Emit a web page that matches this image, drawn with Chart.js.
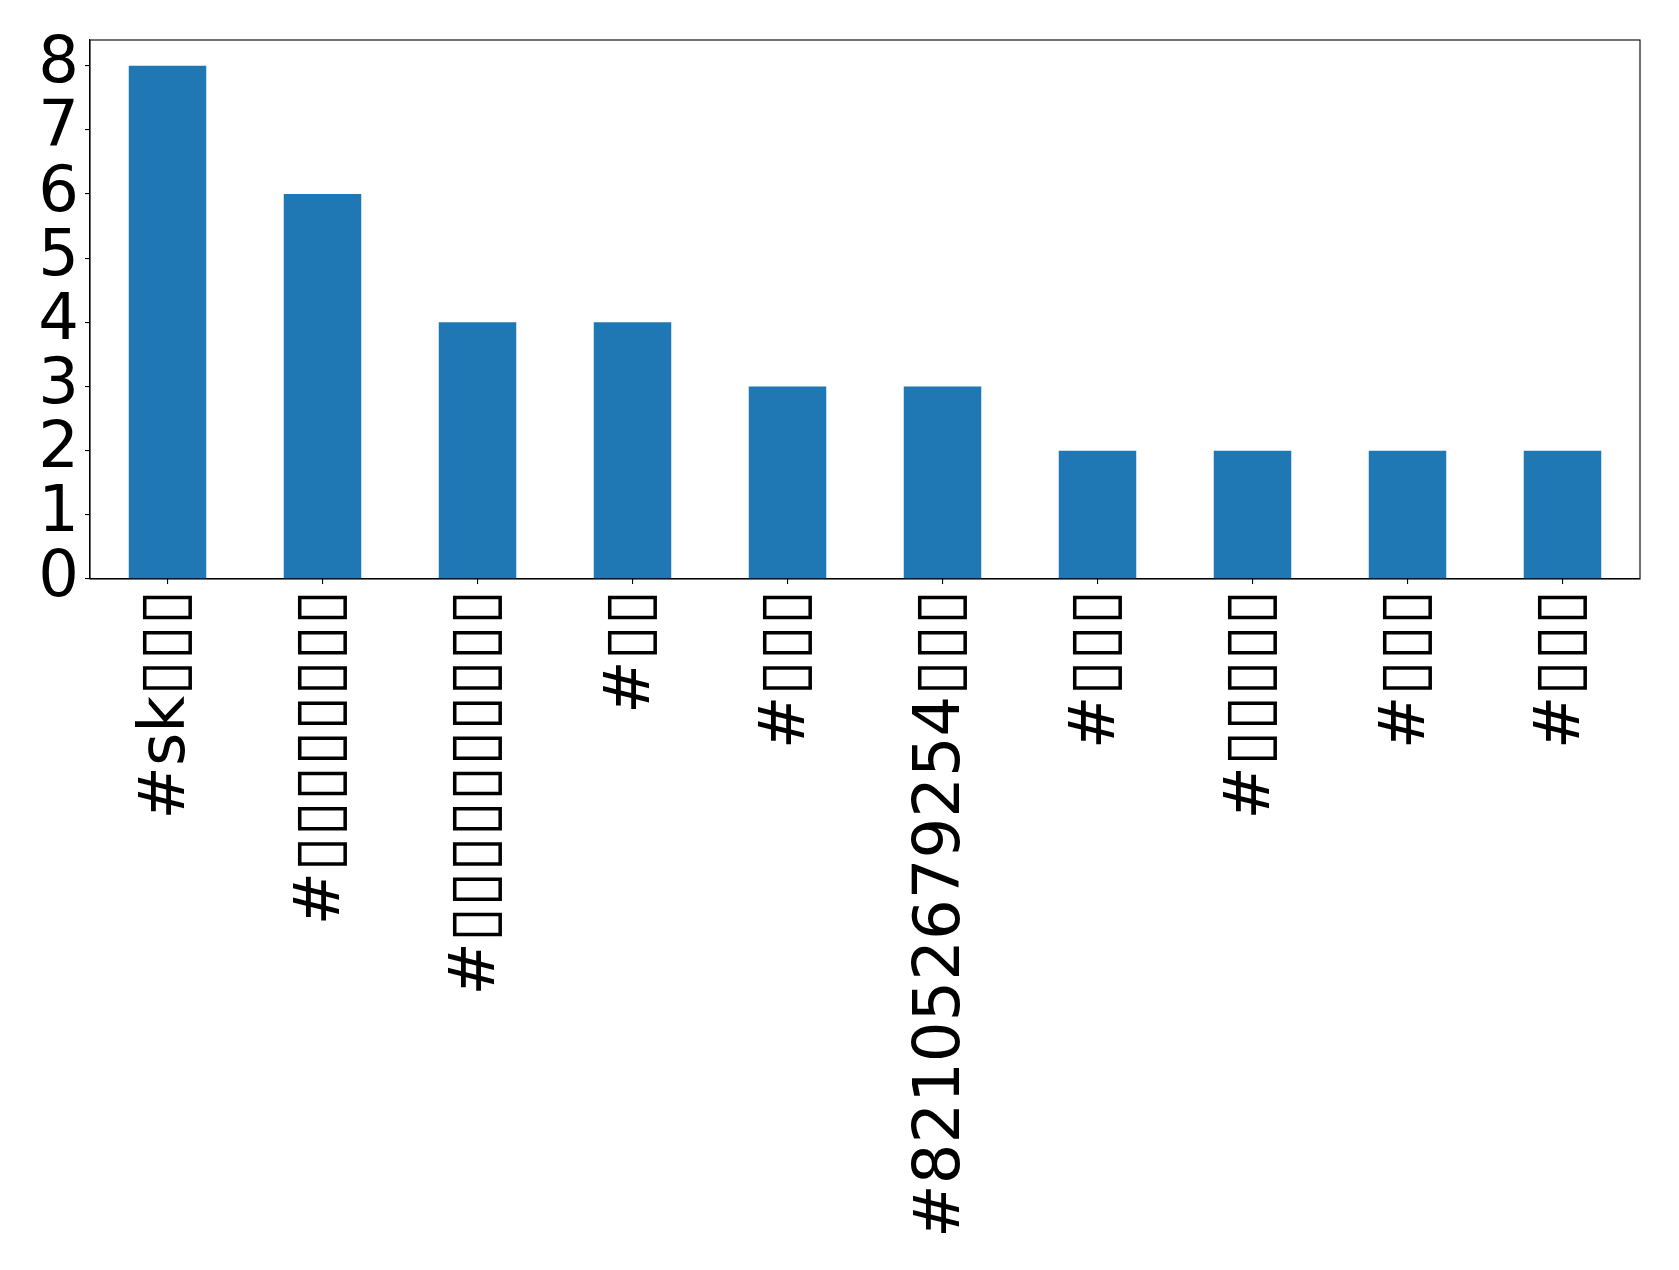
<!DOCTYPE html>
<html>
<head>
<meta charset="utf-8">
<script src="https://cdn.jsdelivr.net/npm/chart.js@4/dist/chart.umd.min.js"></script>
<style>
  html, body { margin: 0; padding: 0; background: #fff; }
  #wrap { width: 1679px; height: 1270px; }
</style>
</head>
<body>
<div id="wrap"><canvas id="chart" width="1679" height="1270"></canvas></div>
<script>
// ---------- Data ----------
// glyphs missing in the source render are kept as white rectangles
const hashtags = [
  "#sk▯▯▯",
  "#▯▯▯▯▯▯▯▯",
  "#▯▯▯▯▯▯▯▯▯▯",
  "#▯▯",
  "#▯▯▯",
  "#821052679254▯▯▯",
  "#▯▯▯",
  "#▯▯▯▯▯",
  "#▯▯▯",
  "#▯▯▯"
];
const counts = [8, 6, 4, 4, 3, 3, 2, 2, 2, 2];
const yTicks = [0, 1, 2, 3, 4, 5, 6, 7, 8];
const yMax = 8.4;

// ---------- Style ----------
const FONT = { family: "'DejaVu Sans'", size: 64 };
const BLUE = "#1f77b4";

// frame round the plot area (matplotlib spines)
const framePlugin = {
  id: "frame",
  afterDraw(c) {
    const a = c.chartArea, ctx = c.ctx;
    ctx.save();
    ctx.strokeStyle = "#000";
    ctx.lineWidth = 1.1;
    ctx.strokeRect(a.left, a.top, a.right - a.left, a.bottom - a.top);
    ctx.restore();
  }
};

Chart.defaults.font.family = FONT.family;
Chart.defaults.color = "#000";

new Chart(document.getElementById("chart"), {
  type: "bar",
  data: {
    labels: hashtags,
    datasets: [{
      data: counts,
      backgroundColor: BLUE,
      borderWidth: 0,
      categoryPercentage: 1.0,
      barPercentage: 0.5
    }]
  },
  options: {
    responsive: false,
    animation: false,
    devicePixelRatio: 1,
    layout: { padding: { top: 40, right: 39, left: 0, bottom: 0 } },
    plugins: { legend: { display: false }, tooltip: { enabled: false } },
    scales: {
      x: {
        grid: { display: true, offset: false, drawOnChartArea: false, drawTicks: true, tickLength: 5, color: "#000", lineWidth: 1.1 },
        border: { display: true, color: "#000", width: 1.1 },
        ticks: { font: FONT, color: "#000", minRotation: 90, maxRotation: 90, autoSkip: false, padding: 6 },
        afterFit: s => { s.height = 691; s.paddingLeft = 0; s.paddingRight = 0; }
      },
      y: {
        min: 0,
        max: yMax,
        grid: { display: true, drawOnChartArea: false, drawTicks: true, tickLength: 5, color: "#000", lineWidth: 1.1 },
        border: { display: true, color: "#000", width: 1.1 },
        ticks: { font: FONT, color: "#000", padding: 6, autoSkip: false },
        afterBuildTicks: s => { s.ticks = yTicks.map(v => ({ value: v })); },
        afterFit: s => { s.width = 90; s.paddingTop = 0; s.paddingBottom = 0; }
      }
    }
  },
  plugins: [framePlugin]
});
</script>
</body>
</html>
